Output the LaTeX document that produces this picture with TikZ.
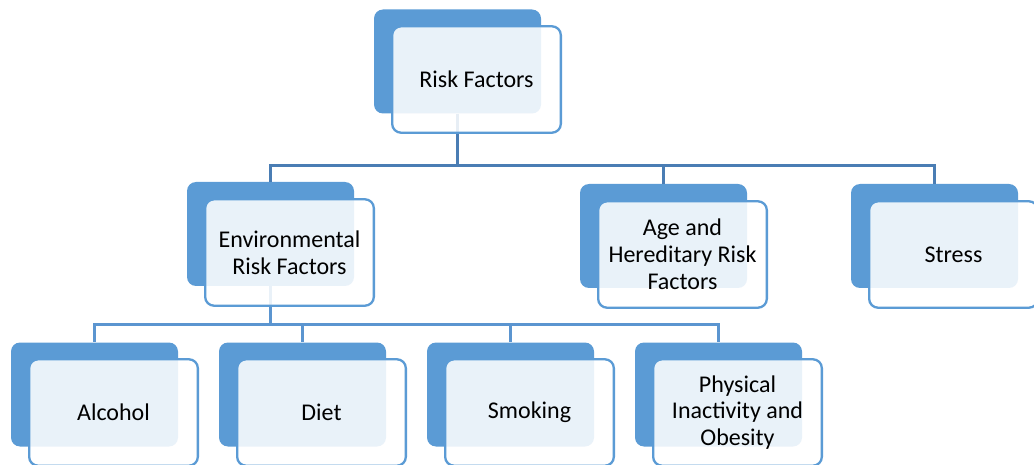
\documentclass[tikz,border=0pt]{standalone}
\usepackage{fontspec}
\setmainfont{Carlito}
\definecolor{boxblue}{HTML}{5B9BD5}
\definecolor{lineA}{HTML}{4A7DB4}
\definecolor{lineB}{HTML}{5B95D0}
\tikzset{
  backbox/.style={draw=none, fill=boxblue, rounded corners=9pt, minimum width=167pt, minimum height=104pt, inner sep=0pt},
  frontbox/.style={draw=boxblue, line width=2.3pt, fill=white, fill opacity=0.87, text opacity=1, rounded corners=9pt, minimum width=168.7pt, minimum height=106.5pt, inner sep=0pt, align=center, font=\fontsize{24}{26.8}\selectfont},
  connA/.style={draw=lineA, line width=2.6pt},
  connB/.style={draw=lineB, line width=2.6pt},
}
\begin{document}
\begin{tikzpicture}[x=1pt,y=-1pt]
\useasboundingbox (0,0) rectangle (1034,465);
\clip (0,0) rectangle (1034,465);
% back boxes
\node[backbox] (rfb) at (457.5,61.5) {};
\node[backbox] (envb) at (270.5,234) {};
\node[backbox] (ageb) at (663.5,236) {};
\node[backbox] (strb) at (934.5,236) {};
\node[backbox] (alcb) at (94.5,394.5) {};
\node[backbox] (dietb) at (302.5,394.5) {};
\node[backbox] (smkb) at (510.5,394.5) {};
\node[backbox] (phyb) at (718.5,394.5) {};
% connectors
\draw[connA] (rfb.south) -- ++(0,52) -| (envb.north);
\draw[connA] (rfb.south) -- ++(0,52) -| (ageb.north);
\draw[connA] (rfb.south) -- ++(0,52) -| (strb.north);
\draw[connB] (envb.south) -- ++(0,38) -| (alcb.north);
\draw[connB] (envb.south) -- ++(0,38) -| (dietb.north);
\draw[connB] (envb.south) -- ++(0,38) -| (smkb.north);
\draw[connB] (envb.south) -- ++(0,38) -| (phyb.north);
% front boxes
\node[frontbox] (rf) at (476.5,79.5) {Risk Factors};
\node[frontbox] (env) at (289.5,252.5) {Environmental\\Risk Factors};
\node[frontbox] (age) at (682.5,254.5) {Age and\\Hereditary Risk\\Factors};
\node[frontbox] (str) at (953.5,254.5) {Stress};
\node[frontbox] (alc) at (113.5,412.5) {Alcohol};
\node[frontbox] (diet) at (321.5,412.5) {Diet};
\node[frontbox] (smk) at (529.5,412.5) {Smoking};
\node[frontbox] (phy) at (737.5,412.5) {Physical\\Inactivity and\\Obesity};
\end{tikzpicture}
\end{document}
